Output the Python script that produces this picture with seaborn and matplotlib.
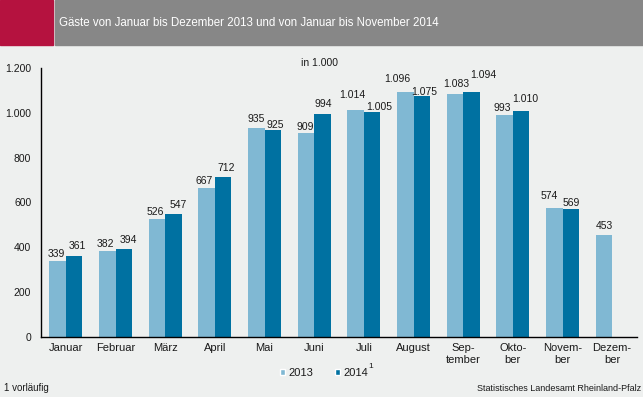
import numpy as np
import pandas as pd
import matplotlib
matplotlib.use("Agg")
import matplotlib.pyplot as plt
from matplotlib.patches import Rectangle, Patch
import seaborn as sns

monate = ["Januar", "Februar", "März", "April", "Mai", "Juni", "Juli", "August",
          "Sep-\ntember", "Okto-\nber", "Novem-\nber", "Dezem-\nber"]
gaeste_2013 = [339, 382, 526, 667, 935, 909, 1014, 1096, 1083, 993, 574, 453]
gaeste_2014 = [361, 394, 547, 712, 925, 994, 1005, 1075, 1094, 1010, 569, np.nan]
jahre = ["2013", "2014"]
y_ticks = [0, 200, 400, 600, 800, 1000, 1200]

# label nudges in pixels (dx, gap above bar) so the labels don't collide
dx_2013 = [-1.5, -2, -2, -2.5, 0, -1, -3, -8.5, 1, -2, -5.5, 0]
gap_2013 = [3.5, 4, 4, 3.7, 6, 3.5, 12, 10, 7, 4, 9, 6]
dx_2014 = [3.5, 4.5, 4.5, 3, 3, 1, 7.5, 3, 11.5, 4.5, 1, 0]
gap_2014 = [7, 6, 6.5, 6, 2, 7, 2, 1, 14, 9, 3, 0]

hell = "#80b8d3"
dunkel = "#0071a1"
bg = "#eef0ef"
txt = "#1a1a1a"


def de(v):
    return f"{v:,.0f}".replace(",", ".")


df = pd.DataFrame({
    "Monat": monate * 2,
    "Gäste": gaeste_2013 + gaeste_2014,
    "Jahr": [jahre[0]] * 12 + [jahre[1]] * 12,
})

sns.set_theme(style="white")
plt.rcParams["font.family"] = ["Liberation Sans", "DejaVu Sans"]

W, H = 643, 397
fig = plt.figure(figsize=(W / 100, H / 100), dpi=100, facecolor=bg)
ax = fig.add_axes([41 / W, 1 - 336.7 / H, (637 - 41) / W, (336.7 - 68.3) / H])
ax.set_facecolor(bg)

sns.barplot(data=df, x="Monat", y="Gäste", hue="Jahr", palette=[hell, dunkel],
            width=0.66, saturation=1, gap=0, ax=ax, legend=False,
            edgecolor="none", linewidth=0)

nudges = [(dx_2013, gap_2013), (dx_2014, gap_2014)]
for cont, (dxs, gaps) in zip(ax.containers, nudges):
    for i, bar in enumerate(cont.patches):
        h = bar.get_height()
        if np.isnan(h) or h == 0:
            continue
        xc = bar.get_x() + bar.get_width() / 2
        ax.annotate(de(h), xy=(xc, h), xytext=(dxs[i], gaps[i]),
                    textcoords="offset pixels", ha="center", va="baseline",
                    fontsize=7.5, color=txt)

ax.set_ylim(0, 1200)
ax.set_yticks(y_ticks)
ax.set_yticklabels([de(t) for t in y_ticks])
ax.set_xlim(-0.5, 11.5)
ax.set_xticks(np.arange(-0.5, 12, 1), minor=False)
ax.set_xticklabels([])
ax.set_xticks(np.arange(12), minor=True)
ax.set_xticklabels(monate, minor=True, fontsize=8, color=txt, linespacing=1.2)
ax.tick_params(axis="x", which="minor", length=0, pad=4.5)
ax.tick_params(axis="x", which="major", length=4, width=1, color="black", direction="out")
ax.tick_params(axis="y", length=3, width=1, color="black", direction="out",
               labelsize=7.5, labelcolor=txt, pad=4)
ax.set_xlabel("")
ax.set_ylabel("")
for s in ["top", "right"]:
    ax.spines[s].set_visible(False)
for s in ["left", "bottom"]:
    ax.spines[s].set_color("black")
    ax.spines[s].set_linewidth(1)

# header
fig.patches.append(Rectangle((0, 1 - 44.7 / H), 53 / W, 44.7 / H,
                             transform=fig.transFigure, color="#b5123f", zorder=0))
fig.patches.append(Rectangle((55 / W, 1 - 44.7 / H), 1, 44.7 / H,
                             transform=fig.transFigure, color="#878787", zorder=0))
fig.text(58.7 / W, 1 - 22.7 / H, "Gäste von Januar bis Dezember 2013 und von Januar bis November 2014",
         color="white", fontsize=8.3, va="center", ha="left")

fig.text(301 / W, 1 - 63 / H, "in 1.000", fontsize=7.5, color=txt, va="center", ha="left")

handles = [Patch(facecolor=hell, label="2013"), Patch(facecolor=dunkel, label="2014")]
fig.legend(handles=handles, loc="center", bbox_to_anchor=(324 / W, 1 - 373 / H), ncol=2,
           frameon=False, fontsize=8, handlelength=0.45, handleheight=0.45,
           handletextpad=0.3, columnspacing=1.9, labelcolor=txt,
           borderpad=0, borderaxespad=0)
fig.text(371 / W, 1 - 366.5 / H, "1", fontsize=6, color=txt, va="center", ha="center")

fig.text(3.7 / W, 1 - 388.3 / H, "1 vorläufig", fontsize=7, color=txt, va="center", ha="left")
fig.text(641 / W, 1 - 388.3 / H, "Statistisches Landesamt Rheinland-Pfalz", fontsize=6.5,
         color=txt, va="center", ha="right")

fig.savefig("out.png", dpi=100, facecolor=bg)
